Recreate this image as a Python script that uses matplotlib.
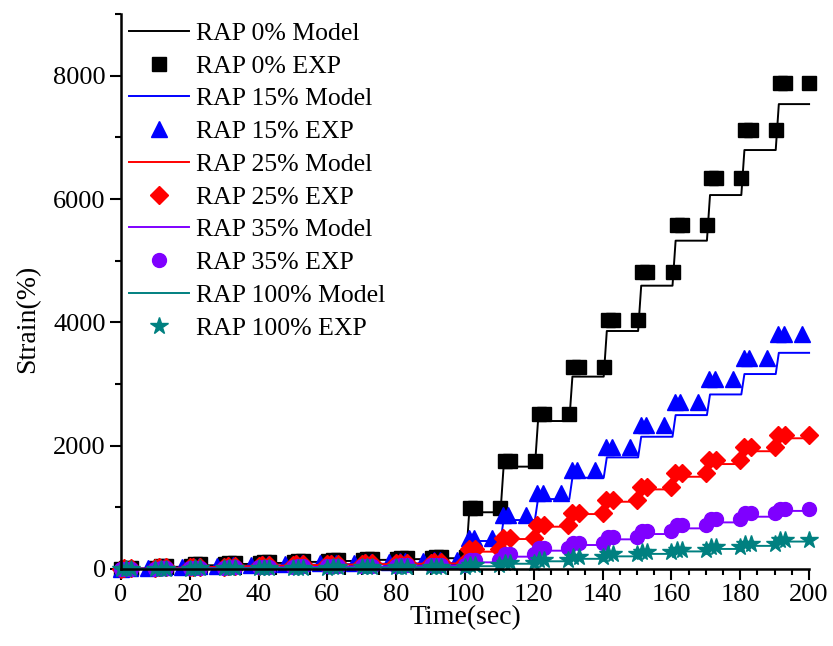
import numpy as np
import matplotlib
matplotlib.use("Agg")
import matplotlib.pyplot as plt
from matplotlib.ticker import MultipleLocator

plt.rcParams['font.family'] = ['Liberation Serif', 'DejaVu Serif']

# ---- data (values per 10-s loading cycle, cycles 0..19) ----
cycles = list(range(20))

black_exp = [20, 50, 75, 100, 115, 135, 150, 170, 185, 200,
             986, 1750, 2512, 3279, 4040, 4815, 5580, 6345, 7115, 7890]
black_mod = [8, 35, 60, 82, 98, 115, 130, 148, 160, 175,
             920, 1660, 2400, 3120, 3860, 4595, 5325, 6065, 6795, 7540]

blue_exp = [10, 30, 50, 65, 80, 95, 105, 120, 130, 140,
            502, 875, 1235, 1605, 1972, 2334, 2712, 3074, 3420, 3809]
blue_mod = [5, 20, 35, 48, 60, 70, 78, 85, 90, 95,
            454, 794, 1134, 1480, 1810, 2145, 2496, 2831, 3162, 3506]

red_exp = [10, 25, 40, 55, 65, 75, 85, 95, 100, 110,
           320, 497, 713, 902, 1118, 1334, 1551, 1767, 1982, 2180]
red_mod = [5, 20, 32, 45, 55, 65, 72, 80, 85, 90,
           281, 486, 686, 891, 1091, 1291, 1496, 1702, 1910, 2120]

purple_exp = [5, 12, 20, 28, 35, 42, 48, 54, 60, 65,
              146, 243, 335, 427, 524, 616, 713, 805, 902, 975]
purple_mod = [3, 8, 14, 20, 26, 32, 37, 42, 46, 50,
              108, 200, 297, 389, 481, 567, 659, 756, 848, 942]

teal_exp = [3, 8, 12, 16, 20, 24, 28, 32, 36, 40,
            65, 103, 146, 190, 238, 270, 308, 360, 410, 470]
teal_mod = [2, 5, 9, 12, 15, 18, 21, 24, 27, 30,
            45, 85, 125, 165, 205, 245, 285, 325, 375, 445]

labels = ["RAP 0%", "RAP 15%", "RAP 25%", "RAP 35%", "RAP 100%"]
colors = ["#000000", "#0000FF", "#FF0000", "#7F00FF", "#008080"]
markers = ["s", "^", "D", "o", "*"]
msizes = [9.5, 11, 9, 10, 13]
# sample times within each cycle (s after cycle start)
exp_offsets = [(1.5, 3.0, 10.3), (1.0, 2.6, 7.8), (1.0, 3.0, 10.0),
               (1.5, 3.0, 10.0), (1.5, 3.0, 10.0)]

exps = [black_exp, blue_exp, red_exp, purple_exp, teal_exp]
mods = [black_mod, blue_mod, red_mod, purple_mod, teal_mod]


def model_xy(vals):
    xs, ys = [0.0], [0.0]
    for k, v in zip(cycles, vals):
        xs += [10 * k + 0.3, 10 * k + 1.2]
        ys += [ys[-1], v]
    xs.append(200.0)
    ys.append(vals[-1])
    return xs, ys


def exp_xy(vals, offs):
    xs, ys = [0.0], [0.0]
    for k, v in zip(cycles, vals):
        for o in offs:
            xs.append(min(10 * k + o, 200.0))
            ys.append(v)
    return xs, ys


fig = plt.figure(figsize=(8.33, 6.46), dpi=100)
ax = fig.add_axes([0.1453, 0.1192, 0.826, 0.859])

for lab, c, m, ms, offs, e, md in zip(labels, colors, markers, msizes,
                                      exp_offsets, exps, mods):
    mx, my = model_xy(md)
    ax.plot(mx, my, color=c, lw=1.4, label=f"{lab} Model", clip_on=False)
    ex, ey = exp_xy(e, offs)
    ax.plot(ex, ey, ls="none", marker=m, ms=ms, color=c, mec=c,
            label=f"{lab} EXP", clip_on=False)

ax.set_xlim(0, 200)
ax.set_ylim(0, 9000)
ax.xaxis.set_major_locator(MultipleLocator(20))
ax.xaxis.set_minor_locator(MultipleLocator(5))
ax.yaxis.set_major_locator(MultipleLocator(2000))
ax.yaxis.set_minor_locator(MultipleLocator(1000))
ax.tick_params(which="major", direction="out", length=8, width=1.5,
               labelsize=19, pad=3)
ax.tick_params(which="minor", direction="out", length=4.5, width=1.5)
for s in ["top", "right"]:
    ax.spines[s].set_visible(False)
for s in ["left", "bottom"]:
    ax.spines[s].set_linewidth(1.8)

ax.set_xlabel("Time(sec)", fontsize=20, labelpad=-1)
ax.set_ylabel("Strain(%)", fontsize=20)
ax.yaxis.set_label_coords(-0.117, 0.45)

ax.legend(loc="upper left", bbox_to_anchor=(0.0, 1.0), frameon=False,
          fontsize=18.5, numpoints=1, handlelength=2.35, handletextpad=0.27,
          labelspacing=0.38, borderaxespad=0.0, borderpad=0.3)

fig.savefig("out.png", dpi=100)
